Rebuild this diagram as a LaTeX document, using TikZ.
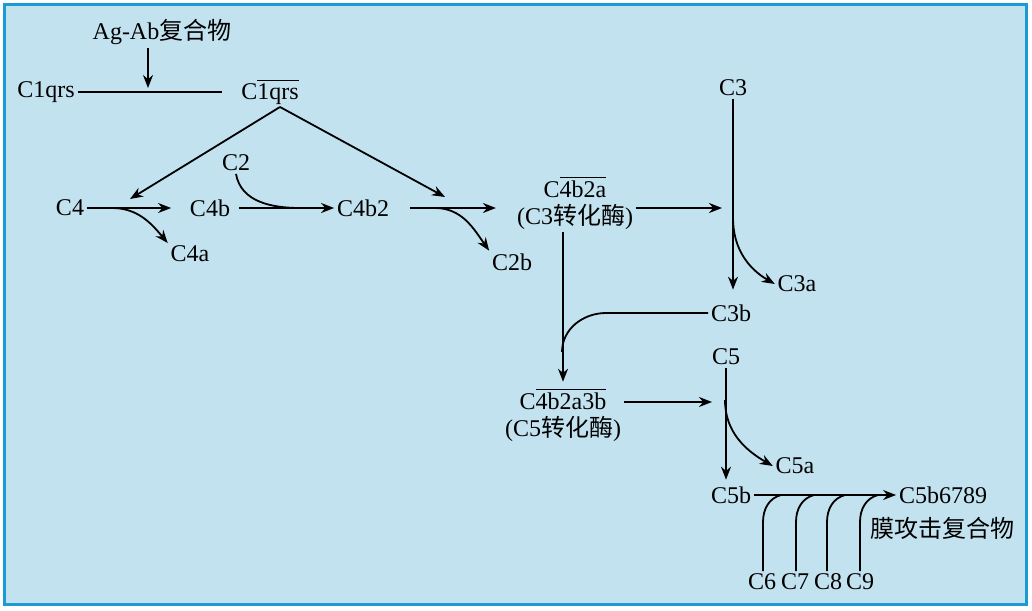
\documentclass[tikz,border=0pt]{standalone}
\usepackage{fontspec}
\setmainfont{Liberation Serif}
\newfontfamily\cjk{Noto Sans CJK SC}
\usepackage{xcolor}
\usepackage{tikz}
\usetikzlibrary{arrows.meta,positioning}
\definecolor{panel}{RGB}{195,226,239}
\definecolor{frame}{RGB}{28,154,212}
\newcommand{\ovl}[1]{\(\overline{\hbox{#1}}\)}

\begin{document}
\begin{tikzpicture}[x=0.5pt, y=-0.5pt, >={Stealth[length=6.5pt,width=5pt]}, line width=0.9pt,
	every node/.style={inner sep=1pt, font=\fontsize{12}{13.5}\selectfont}]
	\useasboundingbox (0,0) rectangle (1032,610);
	\draw[frame, fill=panel, line width=1.5pt] (4.5,4.5) rectangle (1026.5,604.5);
	% classical start
	\node (agab) at (162,32) {Ag-Ab{\cjk 复合物}};
	\node (c1) at (46,92) {C1qrs};
	\node (c1a) at (270,92) {C\ovl{1qrs}};
	\coordinate (j1) at (148,88);
	\coordinate (split) at (280,107);
	\draw[->] (agab.south -| j1) -- (j1);
	\draw[shorten >=8pt] (c1.east) -- (c1a.west);
	% C4 and C2
	\node (c4) at (70,208) {C4};
	\node (c4b) at (210,208) {C4b};
	\node (c4a) at (190,254) {C4a};
	\node (c2) at (236,163) {C2};
	\node (c4b2) at (363,208) {C4b2};
	\node (c2b) at (512,262) {C2b};
	\coordinate (k4) at (130,199);
	\coordinate (k4b2) at (445,197);
	\coordinate (c4j) at (112,208);
	\coordinate (c2j) at (300,208);
	\coordinate (c4b2j) at (435,208);
	\draw[->] (split) -- (k4);
	\draw[->] (split) -- (k4b2);
	\draw[->, shorten >=8pt] (c4.east) -- (c4b.west);
	\draw[->] (c4j) to[out=0,in=130] (c4a.north west);
	\draw[->] (c4b.east) ++(6,0) -- (c4b2.west);
	\draw (c2.south) to[out=-80,in=180] (c2j);
	% C3 convertase
	\node[align=center] (c3conv) at (575,203) {C\ovl{4b2a}\\(C3{\cjk 转化酶})};
	\draw[->] (c4b2.east) ++(18,0) -- ++(86,0);
	\draw[->] (c4b2j) to[out=0,in=125] (c2b.north west);
	\node (c3) at (733,88) {C3};
	\node (c3a) at (797,284) {C3a};
	\node (c3b) at (731,313) {C3b};
	\coordinate (k3) at (722,208);
	\coordinate (c3j) at (733,218);
	\draw[->] (c3conv.east |- k3) -- (k3);
	\draw[->, shorten >=6pt] (c3.south) -- (c3.south |- c3b.north);
	\draw[->] (c3j) to[out=-90,in=150] (c3a.west);
	% C5 convertase
	\node[align=center] (c5conv) at (563,415) {C\ovl{4b2a3b}\\(C5{\cjk 转化酶})};
	\coordinate (k5) at (712,402);
	\draw[->, shorten >=2pt] (c3conv.south -| c5conv.north) -- (c5conv.north);
	\draw (c3b.west) -- (606,313) to[out=180,in=90] (562,352);
	\draw[->] (c5conv.east |- k5) -- (k5);
	\node (c5) at (726,357) {C5};
	\node (c5a) at (795,466) {C5a};
	\node (c5b) at (731,495) {C5b};
	\coordinate (c5j) at (725,400);
	\draw[->, shorten >=2pt] (c5.south) -- (c5.south |- c5b.north);
	\draw[->] (c5j) to[out=-90,in=150] (c5a.west);
	% membrane attack complex
	\node (mac) at (943,495) {C5b6789};
	\node (maclab) at (942,528) {\cjk 膜攻击复合物};
	\draw[->] (c5b.east) -- (mac.west);
	\foreach \n/\x/\lx in {6/763/762, 7/796/795, 8/827/828, 9/860/860} {
		\node (c\n) at (\lx,582) {C\n};
		\draw (c\n.north -| \x,0) -- (\x,522) to[out=90,in=195] (\x+18,495);
	}
\end{tikzpicture}
\end{document}
